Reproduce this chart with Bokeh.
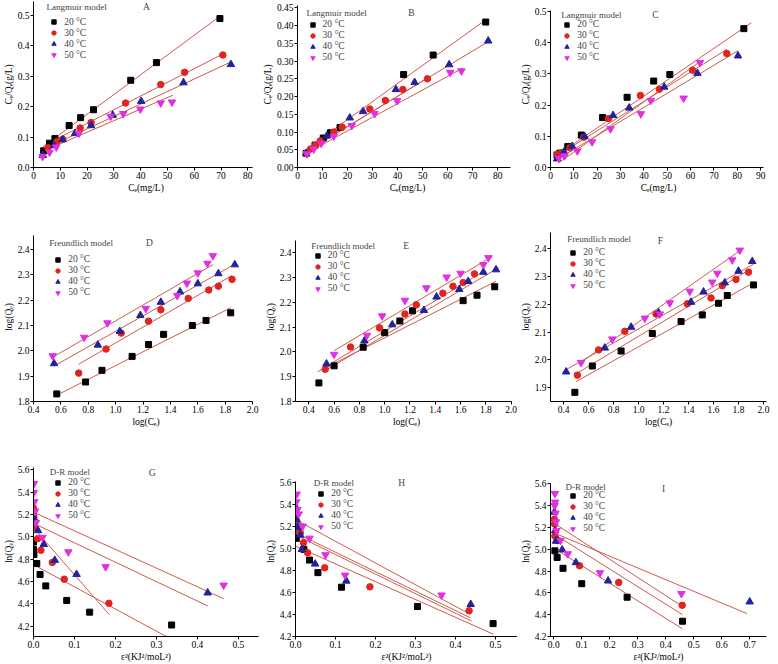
import numpy as np
from bokeh.plotting import figure
from bokeh.layouts import column, row
from bokeh.models import (Range1d, FixedTicker, NumeralTickFormatter, Label,
                          Legend, LegendItem)
from bokeh.embed import file_html
from bokeh.resources import INLINE

FONT = "Liberation Serif"
temps = ["20 °C", "30 °C", "40 °C", "50 °C"]
colors = ["#000000", "#e2231f", "#22229a", "#e030e0"]
markers = ["square", "circle", "triangle", "inverted_triangle"]
msizes = [6, 6.5, 7.5, 7.5]
FIT_COLOR = "#cf5a4c"

# ---------------- Panel A : Langmuir ----------------
A_ce = [
    [3.8, 6.0, 8.0, 13.3, 17.6, 22.4, 36.3, 45.9, 69.6],
    [5.4, 8.7, 10.9, 17.4, 21.5, 34.4, 47.5, 56.4, 70.7],
    [3.5, 7.6, 10.9, 15.5, 21.5, 29.6, 40.2, 56.0, 73.7],
    [3.4, 6.0, 8.5, 16.9, 28.8, 33.5, 39.9, 47.5, 51.7],
]
A_r = [
    [0.055, 0.080, 0.095, 0.138, 0.164, 0.190, 0.287, 0.345, 0.490],
    [0.065, 0.085, 0.093, 0.130, 0.148, 0.212, 0.273, 0.313, 0.370],
    [0.040, 0.072, 0.092, 0.112, 0.138, 0.172, 0.218, 0.279, 0.339],
    [0.036, 0.050, 0.067, 0.112, 0.168, 0.177, 0.192, 0.212, 0.215],
]
A_fit_k = [0.0065, 0.0045, 0.0041, 0.0038]
A_fit_b = [0.045, 0.055, 0.045, 0.040]
A_fit_x = [[3.5, 69.5], [4.5, 70.7], [5.0, 73.5], [4.0, 52.0]]
A_xticks = [0, 10, 20, 30, 40, 50, 60, 70, 80]
A_yticks = [0.0, 0.1, 0.2, 0.3, 0.4, 0.5]

# ---------------- Panel B : Langmuir ----------------
B_ce = [
    [3.5, 7.0, 10.3, 13.2, 17.0, 42.4, 54.2, 75.2],
    [3.5, 5.2, 7.2, 9.1, 14.5, 17.8, 28.9, 35.1, 42.1, 51.9],
    [3.5, 11.7, 20.9, 26.2, 39.3, 46.8, 60.6, 76.2],
    [3.8, 6.5, 9.5, 14.5, 21.7, 30.8, 39.8, 61.0, 65.5],
]
B_r = [
    [0.040, 0.063, 0.083, 0.098, 0.113, 0.262, 0.317, 0.410],
    [0.040, 0.052, 0.063, 0.075, 0.100, 0.114, 0.165, 0.189, 0.220, 0.250],
    [0.040, 0.089, 0.140, 0.158, 0.220, 0.240, 0.290, 0.357],
    [0.038, 0.052, 0.068, 0.088, 0.118, 0.152, 0.188, 0.268, 0.272],
]
B_fit_k = [0.0051, 0.0043, 0.00425, 0.00384]
B_fit_b = [0.033, 0.029, 0.031, 0.0266]
B_fit_x = [[3.0, 75.3], [3.0, 52.0], [3.0, 77.0], [3.5, 66.0]]
B_xticks = [0, 10, 20, 30, 40, 50, 60, 70, 80]
B_yticks = [0.0, 0.05, 0.10, 0.15, 0.20, 0.25, 0.30, 0.35, 0.40, 0.45]

# ---------------- Panel C : Langmuir ----------------
C_ce = [
    [2.8, 4.0, 7.4, 13.2, 22.3, 32.8, 44.2, 51.1, 82.8],
    [3.0, 4.9, 8.3, 14.3, 24.9, 38.5, 46.6, 60.8, 75.5],
    [2.8, 5.8, 9.3, 14.6, 26.8, 33.7, 48.7, 62.9, 80.3],
    [3.5, 6.0, 11.5, 17.8, 25.7, 38.7, 43.0, 57.0, 64.0],
]
C_r = [
    [0.040, 0.046, 0.067, 0.104, 0.160, 0.225, 0.277, 0.298, 0.445],
    [0.042, 0.048, 0.063, 0.097, 0.157, 0.231, 0.251, 0.312, 0.365],
    [0.028, 0.050, 0.068, 0.100, 0.167, 0.191, 0.258, 0.302, 0.358],
    [0.030, 0.037, 0.053, 0.082, 0.124, 0.172, 0.215, 0.222, 0.336],
]
C_fit_k = [0.0051, 0.0047, 0.0045, 0.00536]
C_fit_b = [0.025, 0.0238, 0.0128, -0.004]
C_fit_x = [[3.0, 86.0], [2.8, 75.5], [2.5, 80.3], [3.5, 64.0]]
C_xticks = [0, 10, 20, 30, 40, 50, 60, 70, 80, 90]
C_yticks = [0.0, 0.1, 0.2, 0.3, 0.4, 0.5]

# ---------------- Panel D : Freundlich ----------------
D_lc = [
    [0.57, 0.78, 0.90, 1.12, 1.24, 1.35, 1.56, 1.66, 1.84],
    [0.73, 0.93, 1.04, 1.24, 1.33, 1.53, 1.68, 1.75, 1.85],
    [0.55, 0.87, 1.03, 1.18, 1.33, 1.47, 1.60, 1.75, 1.87],
    [0.54, 0.77, 0.94, 1.22, 1.45, 1.52, 1.60, 1.67, 1.71],
]
D_lq = [
    [1.830, 1.877, 1.923, 1.978, 2.025, 2.065, 2.100, 2.120, 2.150],
    [1.912, 2.007, 2.070, 2.117, 2.162, 2.207, 2.240, 2.255, 2.282],
    [1.950, 2.023, 2.077, 2.140, 2.192, 2.233, 2.265, 2.305, 2.340],
    [1.980, 2.053, 2.110, 2.167, 2.218, 2.267, 2.307, 2.345, 2.375],
]
D_fit_k = [0.2717, 0.3125, 0.3045, 0.312]
D_fit_b = [1.670, 1.719, 1.7725, 1.8065]
D_fit_x = [[0.57, 1.84], [0.73, 1.85], [0.55, 1.87], [0.54, 1.71]]
D_xticks = [0.4, 0.6, 0.8, 1.0, 1.2, 1.4, 1.6, 1.8, 2.0]
D_yticks = [1.8, 1.9, 2.0, 2.1, 2.2, 2.3, 2.4]

# ---------------- Panel E : Freundlich ----------------
E_lc = [
    [0.48, 0.60, 0.83, 1.00, 1.12, 1.22, 1.62, 1.73, 1.87],
    [0.53, 0.73, 0.96, 1.16, 1.25, 1.46, 1.54, 1.62, 1.71],
    [0.54, 0.84, 1.06, 1.31, 1.41, 1.59, 1.66, 1.78, 1.88],
    [0.60, 0.86, 0.98, 1.16, 1.33, 1.49, 1.60, 1.78, 1.82],
]
E_lq = [
    [1.875, 1.944, 2.019, 2.078, 2.125, 2.166, 2.207, 2.229, 2.263],
    [1.930, 2.020, 2.097, 2.153, 2.190, 2.237, 2.265, 2.280, 2.315],
    [1.952, 2.045, 2.110, 2.168, 2.222, 2.253, 2.285, 2.322, 2.332],
    [1.990, 2.067, 2.145, 2.208, 2.258, 2.302, 2.317, 2.352, 2.380],
]
E_fit_k = [0.2589, 0.308, 0.303, 0.304]
E_fit_b = [1.7983, 1.776, 1.764, 1.8226]
E_fit_x = [[0.47, 1.88], [0.50, 1.75], [0.53, 1.90], [0.60, 1.85]]
E_xticks = [0.4, 0.6, 0.8, 1.0, 1.2, 1.4, 1.6, 1.8, 2.0]
E_yticks = [1.8, 1.9, 2.0, 2.1, 2.2, 2.3, 2.4]

# ---------------- Panel F : Freundlich ----------------
F_lc = [
    [0.49, 0.63, 0.86, 1.11, 1.34, 1.51, 1.64, 1.71, 1.92],
    [0.51, 0.68, 0.89, 1.14, 1.39, 1.58, 1.67, 1.78, 1.88],
    [0.42, 0.73, 0.94, 1.16, 1.42, 1.52, 1.69, 1.80, 1.91],
    [0.54, 0.79, 1.05, 1.17, 1.25, 1.41, 1.59, 1.63, 1.75, 1.81],
]
F_lq = [
    [1.883, 1.978, 2.032, 2.095, 2.138, 2.162, 2.204, 2.232, 2.270],
    [1.945, 2.036, 2.103, 2.165, 2.202, 2.223, 2.267, 2.290, 2.316],
    [1.957, 2.043, 2.118, 2.170, 2.208, 2.245, 2.278, 2.320, 2.355],
    [1.990, 2.075, 2.150, 2.165, 2.205, 2.247, 2.280, 2.312, 2.360, 2.395],
]
F_fit_k = [0.2507, 0.270, 0.2533, 0.3164]
F_fit_b = [1.7966, 1.815, 1.8586, 1.8205]
F_fit_x = [[0.50, 1.92], [0.50, 1.90], [0.42, 1.92], [0.52, 1.80]]
F_xticks = [0.4, 0.6, 0.8, 1.0, 1.2, 1.4, 1.6, 1.8, 2.0]
F_yticks = [1.9, 2.0, 2.1, 2.2, 2.3, 2.4]

# ---------------- Panel G : D-R ----------------
G_e2 = [
    [0.0, 0.0, 0.001, 0.008, 0.016, 0.030, 0.081, 0.137, 0.337],
    [0.0, 0.001, 0.003, 0.010, 0.018, 0.046, 0.075, 0.184],
    [0.004, 0.011, 0.025, 0.052, 0.105, 0.425],
    [0.001, 0.001, 0.002, 0.004, 0.006, 0.022, 0.085, 0.176, 0.464],
]
G_lnq = [
    [4.953, 4.885, 4.841, 4.760, 4.662, 4.560, 4.430, 4.325, 4.210],
    [5.254, 5.180, 5.086, 4.983, 4.879, 4.770, 4.620, 4.404],
    [5.150, 5.056, 4.932, 4.790, 4.664, 4.498],
    [5.476, 5.396, 5.313, 5.230, 5.127, 4.994, 4.864, 4.731, 4.566],
]
G_fit_k = [-1.985, -4.2, -1.74, -1.67]
G_fit_b = [4.75, 5.08, 5.12, 5.22]
G_fit_x = [[0.0, 0.335], [0.0, 0.185], [0.0, 0.425], [0.0, 0.464]]
G_xticks = [0.0, 0.1, 0.2, 0.3, 0.4, 0.5]
G_yticks = [4.2, 4.4, 4.6, 4.8, 5.0, 5.2, 5.4, 5.6]

# ---------------- Panel H : D-R ----------------
H_e2 = [
    [0.002, 0.005, 0.021, 0.035, 0.056, 0.115, 0.305, 0.494],
    [0.002, 0.004, 0.008, 0.012, 0.020, 0.030, 0.073, 0.186, 0.434],
    [0.001, 0.003, 0.005, 0.012, 0.016, 0.049, 0.127, 0.438],
    [0.003, 0.002, 0.005, 0.008, 0.018, 0.035, 0.075, 0.124, 0.365],
]
H_lnq = [
    [5.09, 5.14, 4.99, 4.893, 4.779, 4.647, 4.472, 4.317],
    [5.25, 5.22, 5.15, 5.14, 5.05, 4.96, 4.823, 4.65, 4.434],
    [5.37, 5.26, 5.19, 5.12, 4.99, 4.858, 4.703, 4.492],
    [5.49, 5.42, 5.35, 5.31, 5.20, 5.09, 4.94, 4.755, 4.575],
]
H_fit_k = [-1.616, -1.762, -1.773, -1.968]
H_fit_b = [5.02, 5.14, 5.12, 5.26]
H_fit_x = [[0.0, 0.495], [0.0, 0.437], [0.0, 0.44], [0.0, 0.437]]
H_xticks = [0.0, 0.1, 0.2, 0.3, 0.4, 0.5]
H_yticks = [4.2, 4.4, 4.6, 4.8, 5.0, 5.2, 5.4, 5.6]

# ---------------- Panel I : D-R ----------------
I_e2 = [
    [0.004, 0.012, 0.033, 0.100, 0.262, 0.460],
    [0.002, 0.003, 0.004, 0.012, 0.092, 0.232, 0.459],
    [0.002, 0.005, 0.008, 0.013, 0.030, 0.079, 0.194, 0.700],
    [0.004, 0.005, 0.003, 0.006, 0.008, 0.010, 0.024, 0.050, 0.165, 0.456],
]
I_lnq = [
    [4.985, 4.925, 4.825, 4.684, 4.560, 4.340],
    [5.275, 5.23, 5.12, 5.08, 4.848, 4.695, 4.486],
    [5.34, 5.17, 5.075, 5.08, 4.995, 4.878, 4.71, 4.518],
    [5.51, 5.43, 5.40, 5.33, 5.25, 5.17, 5.08, 4.957, 4.783, 4.592],
]
I_fit_k = [-1.609, -1.663, -1.072, -1.609]
I_fit_b = [5.01, 5.24, 5.15, 5.14]
I_fit_x = [[0.0, 0.46], [0.0, 0.46], [0.0, 0.69], [0.0, 0.46]]
I_xticks = [0.0, 0.1, 0.2, 0.3, 0.4, 0.5, 0.6, 0.7]
I_yticks = [4.2, 4.4, 4.6, 4.8, 5.0, 5.2, 5.4, 5.6]

LEG_ROW = 11

# shared frame borders: (left, right) per column, (top, bottom) per row
COL_W = [259, 258, 261]
ROW_H = [220, 220, 224]
COL_LR = [(27, 1), (36, 0), (31, 12)]
ROW_TB = [(1, 53), (12, 39), (26, 27)]


def panel(xs, ys, fk, fb, fx, xticks, yticks, *, ci, ri, xr, yr, xb, yb,
          xfmt, yfmt, xlabel, ylabel, model, letter, tpos, lpos, gpos):
    w, h = COL_W[ci], ROW_H[ri]
    bl, br = COL_LR[ci]
    bt, bb = ROW_TB[ri]
    p = figure(width=w, height=h, output_backend="svg", toolbar_location=None,
               title=None, x_range=Range1d(*xr), y_range=Range1d(*yr),
               min_border_left=bl, min_border_right=br,
               min_border_top=bt, min_border_bottom=bb)
    p.outline_line_color = None
    p.xgrid.visible = False
    p.ygrid.visible = False
    fh = h - bt - bb

    for k in range(4):
        lx = np.array(fx[k], dtype=float)
        p.line(lx, fk[k] * lx + fb[k], line_color=FIT_COLOR, line_width=1)

    items = []
    for k in range(4):
        r = p.scatter(xs[k], ys[k], marker=markers[k], size=msizes[k],
                      fill_color=colors[k], line_color=colors[k])
        items.append(LegendItem(label=temps[k], renderers=[r]))

    for ax, ticks, fmt, lab, bnd in ((p.xaxis[0], xticks, xfmt, xlabel, xb),
                                     (p.yaxis[0], yticks, yfmt, ylabel, yb)):
        ax.ticker = FixedTicker(ticks=ticks)
        ax.formatter = NumeralTickFormatter(format=fmt)
        ax.axis_label = lab
        ax.bounds = bnd
        ax.axis_line_color = "black"
        ax.axis_line_width = 1
        ax.major_tick_line_color = "black"
        ax.major_tick_out = 3
        ax.major_tick_in = 0
        ax.minor_tick_line_color = None
        ax.major_label_text_font = FONT
        ax.major_label_text_font_size = "9.5px"
        ax.major_label_text_color = "black"
        ax.major_label_standoff = 1
        ax.axis_label_text_font = FONT
        ax.axis_label_text_font_size = "9.5px"
        ax.axis_label_text_font_style = "normal"
        ax.axis_label_text_color = "black"
        ax.axis_label_standoff = 1

    gx, gy = gpos
    leg = Legend(items=items, location=(gx, fh - gy - 4 * LEG_ROW),
                 padding=0, spacing=0, margin=0,
                 glyph_width=15, glyph_height=LEG_ROW, label_height=LEG_ROW,
                 label_standoff=3, label_text_font=FONT,
                 label_text_font_size="9.5px",
                 border_line_color=None, background_fill_alpha=0)
    p.add_layout(leg)

    p.add_layout(Label(x=tpos[0], y=fh - tpos[1], x_units="screen", y_units="screen",
                       text=model, text_font=FONT, text_font_size="9px",
                       text_baseline="middle", text_align="left"))
    p.add_layout(Label(x=lpos[0], y=fh - lpos[1], x_units="screen", y_units="screen",
                       text=letter, text_font=FONT, text_font_size="9.5px",
                       text_baseline="middle", text_align="center"))
    return p


LY = "Cₑ/Qₑ(g/L)"
LX = "Cₑ(mg/L)"
FY = "log(Qₑ)"
FX = "log(Cₑ)"
DY = "ln(Qₑ)"
DX = "ε²(KJ²/moL²)"

pA = panel(A_ce, A_r, A_fit_k, A_fit_b, A_fit_x, A_xticks, A_yticks, ci=0, ri=0,
           xr=(0, 84.0), yr=(0, 0.546), xb=(0, 81.8), yb="auto",
           xfmt="0", yfmt="0.0", xlabel=LX, ylabel=LY, model="Langmuir model",
           letter="A", tpos=(13, 5), lpos=(113, 5), gpos=(13.2, 15.2))
pB = panel(B_ce, B_r, B_fit_k, B_fit_b, B_fit_x, B_xticks, B_yticks, ci=1, ri=0,
           xr=(0, 87.9), yr=(0, 0.468), xb=(0, 85.1), yb=(0, 0.4565),
           xfmt="0", yfmt="0.00", xlabel=LX, ylabel=LY, model="Langmuir model",
           letter="B", tpos=(9, 11.3), lpos=(114, 11), gpos=(7.5, 17.5))
pC = panel(C_ce, C_r, C_fit_k, C_fit_b, C_fit_x, C_xticks, C_yticks, ci=2, ri=0,
           xr=(0, 92.5), yr=(0, 0.532), xb=(0, 91.3), yb=(0, 0.503),
           xfmt="0", yfmt="0.0", xlabel=LX, ylabel=LY, model="Langmuir model",
           letter="C", tpos=(10.7, 13), lpos=(105, 13), gpos=(9.2, 17.5))
pD = panel(D_lc, D_lq, D_fit_k, D_fit_b, D_fit_x, D_xticks, D_yticks, ci=0, ri=1,
           xr=(0.4, 2.043), yr=(1.8, 2.467), xb=(0.4, 2.001), yb=(1.8, 2.455),
           xfmt="0.0", yfmt="0.0", xlabel=FX, ylabel=FY, model="Freundlich model",
           letter="D", tpos=(15.7, 10), lpos=(116, 10), gpos=(17.2, 21.8))
pE = panel(E_lc, E_lq, E_fit_k, E_fit_b, E_fit_x, E_xticks, E_yticks, ci=1, ri=1,
           xr=(0.295, 2.05), yr=(1.8, 2.482), xb=(0.295, 2.002), yb=(1.8, 2.45),
           xfmt="0.0", yfmt="0.0", xlabel=FX, ylabel=FY, model="Freundlich model",
           letter="E", tpos=(15.7, 13), lpos=(110.7, 13), gpos=(14.8, 17.5))
pF = panel(F_lc, F_lq, F_fit_k, F_fit_b, F_fit_x, F_xticks, F_yticks, ci=2, ri=1,
           xr=(0.295, 2.024), yr=(1.85, 2.459), xb="auto", yb="auto",
           xfmt="0.0", yfmt="0.0", xlabel=FX, ylabel=FY, model="Freundlich model",
           letter="F", tpos=(16.7, 6.3), lpos=(110, 8.7), gpos=(15.2, 14.8))
pG = panel(G_e2, G_lnq, G_fit_k, G_fit_b, G_fit_x, G_xticks, G_yticks, ci=0, ri=2,
           xr=(0, 0.549), yr=(4.107, 5.629), xb="auto", yb=(4.107, 5.62),
           xfmt="0.0", yfmt="0.0", xlabel=DX, ylabel=DY, model="D-R model",
           letter="G", tpos=(16.3, 6.3), lpos=(118.7, 7), gpos=(17.2, 11.8))
pH = panel(H_e2, H_lnq, H_fit_k, H_fit_b, H_fit_x, H_xticks, H_yticks, ci=1, ri=2,
           xr=(0, 0.555), yr=(4.2, 5.741), xb="auto", yb=(4.199, 5.601),
           xfmt="0.0", yfmt="0.0", xlabel=DX, ylabel=DY, model="D-R model",
           letter="H", tpos=(18.3, 17.3), lpos=(106.3, 17), gpos=(18.2, 22.5))
pI = panel(I_e2, I_lnq, I_fit_k, I_fit_b, I_fit_x, I_xticks, I_yticks, ci=2, ri=2,
           xr=(-0.0117, 0.760), yr=(4.2, 5.758), xb="auto", yb=(4.199, 5.601),
           xfmt="0.0", yfmt="0.0", xlabel=DX, ylabel=DY, model="D-R model",
           letter="I", tpos=(15, 21), lpos=(113, 23), gpos=(15.2, 24.5))

layout = column(row(pA, pB, pC), row(pD, pE, pF), row(pG, pH, pI))

open("out.html", "w").write(file_html(layout, INLINE))
